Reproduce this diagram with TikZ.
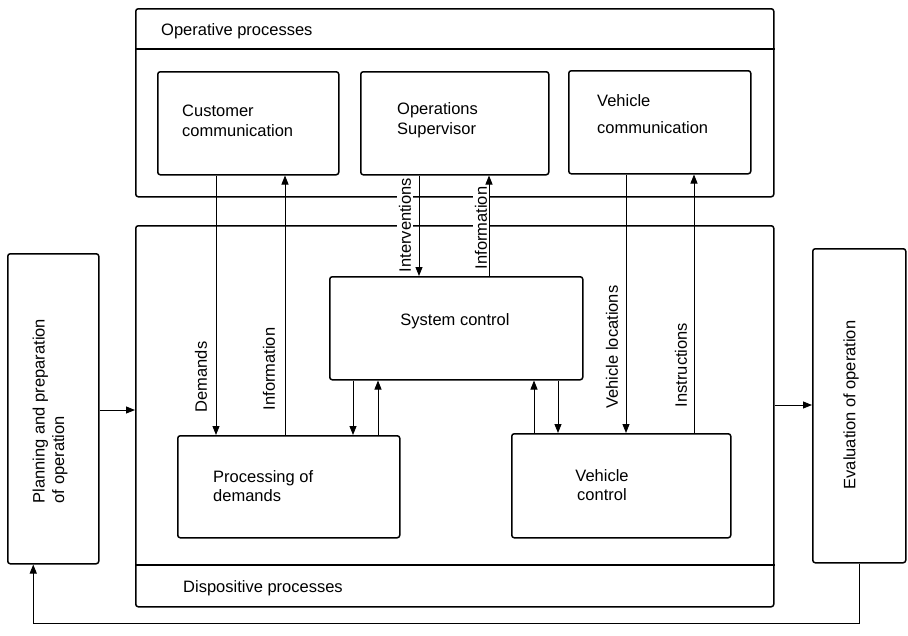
\documentclass[tikz,border=0pt]{standalone}
\usepackage{fontspec}
\setmainfont{Liberation Sans}
\usetikzlibrary{arrows.meta}
\begin{document}
\begin{tikzpicture}[x=1pt,y=-1pt,
  frame/.style={draw, line width=1.5pt, rounded corners=2.5pt, anchor=north west, inner sep=0pt},
  txt/.style={font=\fontsize{16.5}{19.5}\selectfont, inner sep=0pt, align=left},
  arr/.style={line width=0.9pt, -{Triangle[length=9pt,width=7pt]}},
  lbl/.style={font=\fontsize{16.5}{19.5}\selectfont, rotate=90, inner sep=1.5pt}]
\useasboundingbox (0,0) rectangle (908,635);

% outer frames
\node[frame, minimum width=638pt, minimum height=188pt] (op) at (135,8) {};
\coordinate (hdr) at (0,49);
\draw[line width=1.5pt] (op.west |- hdr) -- (op.east |- hdr);
\node[txt, anchor=base west] (optxt) at (161,35) {Operative processes};

\node[frame, minimum width=638pt, minimum height=381pt] (dp) at (135,225) {};
\coordinate (ftr) at (0,565);
\draw[line width=1.5pt] (dp.west |- ftr) -- (dp.east |- ftr);
\node[txt, anchor=base west] (dptxt) at (183,592) {Dispositive processes};

% operative boxes
\node[frame, minimum width=181pt, minimum height=103pt] (cc) at (157,71) {};
\node[txt, anchor=west] (cctxt) at (182,121) {Customer\\communication};
\node[frame, minimum width=188pt, minimum height=103pt] (os) at (360,71) {};
\node[txt, anchor=west] (ostxt) at (397,120) {Operations\\Supervisor};
\node[frame, minimum width=182pt, minimum height=103pt] (vc) at (568,70) {};
\node[txt, anchor=west] (vctxt) at (597,114) {Vehicle\\[8pt]communication};

% dispositive boxes
\node[frame, minimum width=253pt, minimum height=103pt] (sc) at (329,276) {};
\node[txt, anchor=base] (sctxt) at (455,325) {System control};
\node[frame, minimum width=222pt, minimum height=102pt] (pd) at (177,435) {};
\node[txt, anchor=west] (pdtxt) at (213,486) {Processing of\\demands};
\node[frame, minimum width=219pt, minimum height=104pt] (vk) at (511,433) {};
\node[txt, align=center] (vktxt) at (602,485) {Vehicle\\control};

% side boxes
\node[frame, minimum width=91pt, minimum height=310pt] (plan) at (7,253) {};
\node[txt, rotate=90] (plantxt) at (50,411) {Planning and preparation\\of operation};
\node[frame, minimum width=93pt, minimum height=314pt] (eval) at (812,248) {};
\node[txt, rotate=90] (evaltxt) at (851,405) {Evaluation of operation};

% x positions of vertical connectors
\coordinate (xd) at (216,0);
\coordinate (xi) at (285,0);
\coordinate (xiv) at (419,0);
\coordinate (xin) at (489,0);
\coordinate (xvl) at (626,0);
\coordinate (xis) at (694,0);
\coordinate (xa) at (353,0);
\coordinate (xb) at (378,0);
\coordinate (xc) at (534,0);
\coordinate (xe) at (558,0);

\draw[arr] (cc.south -| xd) -- (pd.north -| xd);
\draw[arr] (pd.north -| xi) -- (cc.south -| xi);
\draw[arr] (os.south -| xiv) -- (sc.north -| xiv);
\draw[arr] (sc.north -| xin) -- (os.south -| xin);
\draw[arr] (vc.south -| xvl) -- (vk.north -| xvl);
\draw[arr] (vk.north -| xis) -- (vc.south -| xis);
\draw[arr] (sc.south -| xa) -- (pd.north -| xa);
\draw[arr] (pd.north -| xb) -- (sc.south -| xb);
\draw[arr] (vk.north -| xc) -- (sc.south -| xc);
\draw[arr] (sc.south -| xe) -- (vk.north -| xe);

% connector labels
\node[lbl] (ldem) at (201,377) {Demands};
\node[lbl] (linf1) at (269,369) {Information};
\node[lbl, fill=white] (lint) at (405,225) {Interventions};
\node[lbl, fill=white] (linf2) at (481,228) {Information};
\node[lbl] (lvl) at (612,347) {Vehicle locations};
\node[lbl] (lins) at (681,365) {Instructions};

% side connectors
\coordinate (ya) at (0,410);
\coordinate (yb) at (0,405);
\coordinate (yfb) at (0,623);
\draw[arr] (plan.east |- ya) -- (dp.west |- ya);
\draw[arr] (dp.east |- yb) -- (eval.west |- yb);
\coordinate (fbx) at ([xshift=-20pt]plan.south);
\draw[arr] (eval.south) -- (eval.south |- yfb) -- (fbx |- yfb) -- (fbx);
\end{tikzpicture}
\end{document}
